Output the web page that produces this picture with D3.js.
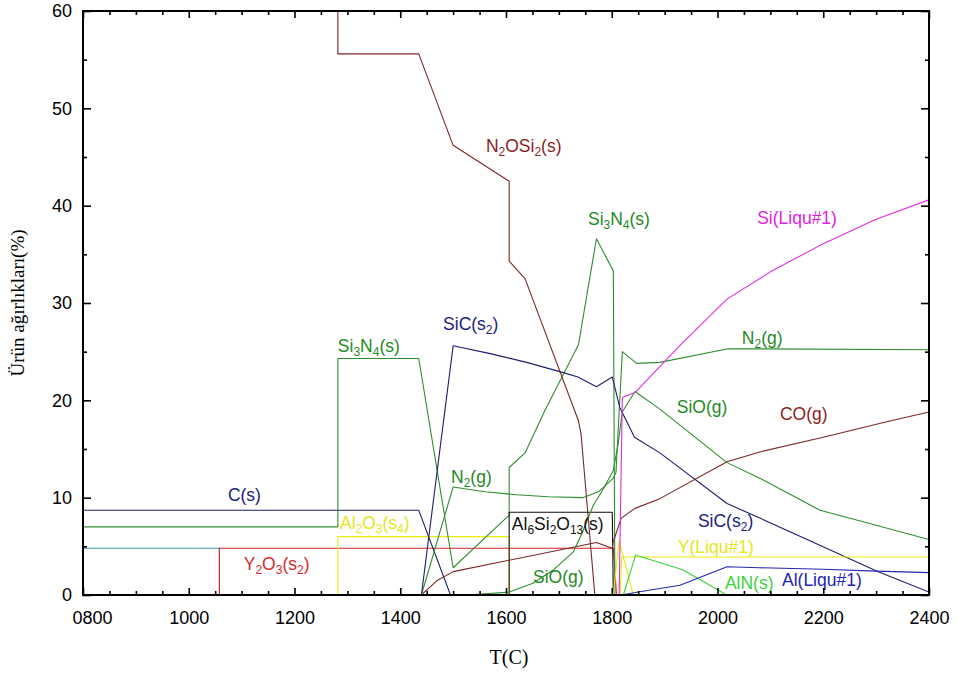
<!DOCTYPE html>
<html>
<head>
<meta charset="utf-8">
<script src="https://cdn.jsdelivr.net/npm/d3@7"></script>
<style>
  body { margin: 0; background: #fff; }
  svg { display: block; }
</style>
</head>
<body>
<svg id="chart" width="957" height="675"></svg>
<script>
// Axis ticks
const tempMajorTicks = [800, 1000, 1200, 1400, 1600, 1800, 2000, 2200, 2400];
const tempMinorTicks = [850, 900, 950, 1050, 1100, 1150, 1250, 1300, 1350, 1450, 1500, 1550,
                        1650, 1700, 1750, 1850, 1900, 1950, 2050, 2100, 2150, 2250, 2300, 2350];
const pctMajorTicks = [0, 10, 20, 30, 40, 50, 60];
const pctMinorTicks = [5, 15, 25, 35, 45, 55];

// Equilibrium product amounts (wt %) against temperature (C): [T, value]
const N2OSi2_s   = [[1282, 60], [1282, 55.6], [1435, 55.6], [1500, 46.2], [1606, 42.5], [1606, 34.3],
                    [1636, 32.5], [1737, 17.9], [1742, 16.5], [1768, 0]];
const Si3N4_s    = [[800, 7.0], [1282, 7.0], [1282, 24.3], [1435, 24.3], [1500, 2.8], [1606, 8.2],
                    [1606, 13.1], [1636, 14.6], [1674, 19.0], [1737, 25.7], [1771, 36.6], [1803, 33.3], [1806, 0]];
const SiC_s2     = [[1440, 0], [1500, 25.6], [1570, 24.8], [1639, 23.9], [1705, 22.9], [1736, 22.4],
                    [1771, 21.4], [1801, 22.4], [1815, 19.3], [1843, 16.2], [1891, 14.6], [2018, 9.4],
                    [2080, 7.9], [2206, 4.8], [2304, 2.4], [2400, 0.3]];
const C_s        = [[800, 8.7], [1435, 8.7], [1495, 0]];
const Y2O3_s     = [[800, 4.8], [1058, 4.8], [1058, 0]];
const Y2O3_s2    = [[1058, 0], [1058, 4.8], [1803, 4.8], [1809, 0]];
const Al2O3_s4   = [[1282, 0], [1282, 6.0], [1606, 6.0], [1606, 0]];
const Al6Si2O13_s = [[1606, 0], [1606, 8.5], [1801, 8.5], [1803, 0]];
const N2_g       = [[1440, 0], [1500, 11.1], [1560, 10.6], [1620, 10.3], [1680, 10.1], [1745, 10.0],
                    [1775, 10.6], [1803, 12.0], [1808, 12.6], [1820, 25.0], [1847, 23.8], [1891, 23.9],
                    [2020, 25.3], [2400, 25.2]];
const SiO_g      = [[1540, 0.05], [1606, 0.3], [1651, 1.2], [1690, 2.6], [1727, 4.4], [1745, 6.5],
                    [1765, 9.2], [1785, 11.0], [1803, 12.8], [1812, 15.5], [1820, 18.8], [1844, 20.9],
                    [1891, 19.1], [2018, 13.6], [2080, 12.0], [2194, 8.7], [2263, 7.7], [2400, 5.7]];
const CO_g       = [[1440, 0], [1470, 1.5], [1500, 2.4], [1771, 5.4], [1801, 4.8], [1803, 5.5],
                    [1818, 7.9], [1844, 8.9], [1891, 9.9], [2018, 13.7], [2080, 14.7], [2200, 16.2],
                    [2320, 17.8], [2400, 18.8]];
const Si_Liqu1   = [[1814, 0], [1820, 20.3], [1844, 20.8], [1930, 25.7], [2018, 30.4], [2100, 33.2],
                    [2200, 36.1], [2300, 38.6], [2400, 40.6]];
const Y_Liqu1    = [[1816, 0], [1819, 3.9], [2400, 3.9]];
const Y_phase    = [[1803, 0], [1814, 5.6], [1840, 0.1]];
const AlN_s      = [[1822, 0], [1845, 4.1], [1934, 2.6], [2011, 0.2], [2016, 0]];
const Al_Liqu1   = [[1818, 0], [1850, 0.3], [1929, 1.0], [2018, 2.9], [2080, 2.8], [2200, 2.65],
                    [2300, 2.45], [2400, 2.3]];

const maroon = "#7d2626", green = "#2f8d2f", navy = "#1e1e6e";

const series = [
  { data: Y2O3_s,      color: "#3a95a8" },
  { data: Y2O3_s2,     color: "#d42424" },
  { data: Al2O3_s4,    color: "#eaea10" },
  { data: C_s,         color: navy },
  { data: Si3N4_s,     color: green },
  { data: N2OSi2_s,    color: maroon },
  { data: Al6Si2O13_s, color: "#111111" },
  { data: CO_g,        color: maroon },
  { data: N2_g,        color: green },
  { data: SiO_g,       color: green },
  { data: SiC_s2,      color: navy },
  { data: Y_phase,     color: "#eaea10" },
  { data: Y_Liqu1,     color: "#eaea10" },
  { data: AlN_s,       color: "#3cd23c" },
  { data: Al_Liqu1,    color: "#2626b0" },
  { data: Si_Liqu1,    color: "#e02ce0" }
];

// Curve names, "_" marks a subscript run
const labels = [
  { text: "N_2OSi_2(s)",     color: "#8a1e1e", at: [1562, 45.5] },
  { text: "Si_3N_4(s)",      color: "#1f8a1f", at: [1755, 38.0] },
  { text: "Si(Liqu#1)",      color: "#e01ee0", at: [2075, 38.1] },
  { text: "SiC(s_2)",        color: "#1c1c80", at: [1481, 27.2] },
  { text: "Si_3N_4(s)",      color: "#1f8a1f", at: [1282, 25.0] },
  { text: "N_2(g)",          color: "#1f8a1f", at: [2046, 25.8] },
  { text: "SiO(g)",          color: "#1f8a1f", at: [1923, 18.7] },
  { text: "CO(g)",           color: "#8a1e1e", at: [2118, 18.0] },
  { text: "N_2(g)",          color: "#1f8a1f", at: [1496, 11.5] },
  { text: "C(s)",            color: "#1c1c80", at: [1074, 9.66] },
  { text: "Al_2O_3(s_4)",    color: "#e6e61a", at: [1286, 6.78] },
  { text: "Al_6Si_2O_13(s)", color: "#111111", at: [1611, 6.68] },
  { text: "SiC(s_2)",        color: "#1c1c80", at: [1963, 6.99] },
  { text: "Y(Liqu#1)",       color: "#e6e61a", at: [1925, 4.32] },
  { text: "Y_2O_3(s_2)",     color: "#d42a2a", at: [1104, 2.57] },
  { text: "SiO(g)",          color: "#1f8a1f", at: [1651, 1.23] },
  { text: "AlN(s)",          color: "#3cd23c", at: [2014, 0.62] },
  { text: "Al(Liqu#1)",      color: "#2424b4", at: [2122, 0.92] }
];

const margin = { left: 83, right: 28, top: 11, bottom: 80 };
const W = 957, H = 675;
const svg = d3.select("#chart");

const x = d3.scaleLinear().domain([800, 2400]).range([margin.left, W - margin.right]);
const y = d3.scaleLinear().domain([0, 60]).range([H - margin.bottom, margin.top]);

svg.append("clipPath").attr("id", "plot")
  .append("rect")
  .attr("x", x(800)).attr("y", y(60))
  .attr("width", x(2400) - x(800)).attr("height", y(0) - y(60));

const line = d3.line().x(d => x(d[0])).y(d => y(d[1]));

const curves = svg.append("g").attr("clip-path", "url(#plot)");
series.forEach(s => {
  curves.append("path")
    .attr("d", line(s.data))
    .attr("fill", "none")
    .attr("stroke", s.color)
    .attr("stroke-width", 1.1)
    .attr("stroke-linejoin", "round");
});

// Curve labels with subscripts
const labelFont = "'Liberation Sans', Arial, sans-serif";
labels.forEach(l => {
  const t = svg.append("text")
    .attr("x", x(l.at[0])).attr("y", y(l.at[1]))
    .attr("fill", l.color)
    .attr("font-family", labelFont)
    .attr("font-size", 17.5);
  const parts = l.text.split(/(_\d+)/).filter(p => p.length);
  let shifted = false;
  parts.forEach(p => {
    if (p.startsWith("_")) {
      t.append("tspan").attr("font-size", 12).attr("dy", 4).text(p.slice(1));
      shifted = true;
    } else {
      t.append("tspan").attr("dy", shifted ? -4 : 0).text(p);
      shifted = false;
    }
  });
});

// Axes: inward ticks on all four sides
const fmtT = d3.format("04d");
const axisB = svg.append("g").attr("transform", `translate(0,${y(0)})`);
axisB.call(d3.axisBottom(x).tickValues(tempMajorTicks).tickSize(-7).tickSizeOuter(0)
  .tickPadding(16).tickFormat(fmtT));
axisB.append("g").call(d3.axisBottom(x).tickValues(tempMinorTicks).tickSize(-4).tickSizeOuter(0).tickFormat(""));
// first label sits just right of the corner
axisB.selectAll(".tick text").filter(d => d === 800).attr("dx", 9);

const axisT = svg.append("g").attr("transform", `translate(0,${y(60)})`);
axisT.call(d3.axisTop(x).tickValues(tempMajorTicks).tickSize(-7).tickSizeOuter(0).tickFormat(""));
axisT.append("g").call(d3.axisTop(x).tickValues(tempMinorTicks).tickSize(-4).tickSizeOuter(0).tickFormat(""));

const axisL = svg.append("g").attr("transform", `translate(${x(800)},0)`);
axisL.call(d3.axisLeft(y).tickValues(pctMajorTicks).tickSize(-8).tickSizeOuter(0).tickPadding(11));
axisL.append("g").call(d3.axisLeft(y).tickValues(pctMinorTicks).tickSize(-4).tickSizeOuter(0).tickFormat(""));

const axisR = svg.append("g").attr("transform", `translate(${x(2400)},0)`);
axisR.call(d3.axisRight(y).tickValues(pctMajorTicks).tickSize(-8).tickSizeOuter(0).tickFormat(""));
axisR.append("g").call(d3.axisRight(y).tickValues(pctMinorTicks).tickSize(-4).tickSizeOuter(0).tickFormat(""));

svg.selectAll(".domain").remove();
svg.selectAll(".tick line").attr("stroke", "#000").attr("stroke-width", 1.6);
svg.selectAll(".tick text")
  .attr("font-family", labelFont)
  .attr("font-size", 18)
  .attr("fill", "#000");

svg.append("rect")
  .attr("x", x(800)).attr("y", y(60))
  .attr("width", x(2400) - x(800)).attr("height", y(0) - y(60))
  .attr("fill", "none").attr("stroke", "#000").attr("stroke-width", 2);

// Axis titles
svg.append("text")
  .attr("x", (x(800) + x(2400)) / 2 + 3).attr("y", 664)
  .attr("text-anchor", "middle")
  .attr("font-family", "'Liberation Serif', 'Times New Roman', serif")
  .attr("font-size", 20)
  .text("T(C)");

svg.append("text")
  .attr("transform", `translate(24,${(y(0) + y(60)) / 2}) rotate(-90)`)
  .attr("text-anchor", "middle")
  .attr("font-family", "'Liberation Serif', 'Times New Roman', serif")
  .attr("font-size", 19)
  .text("Ürün ağırlıkları(%)");
</script>
</body>
</html>
